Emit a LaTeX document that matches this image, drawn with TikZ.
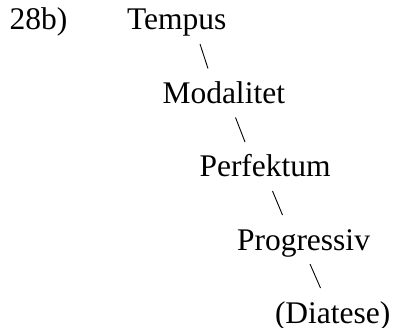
\documentclass[tikz,border=0pt]{standalone}
\usepackage{fontspec}
\setmainfont{Liberation Serif}
\begin{document}
\begin{tikzpicture}[x=1pt,y=1pt,
  lbl/.style={inner sep=0pt,outer sep=0pt,anchor=base west,font=\fontsize{31.5}{36}\selectfont},
  conn/.style={line width=0.9pt}]
\useasboundingbox (0,0) rectangle (395,-328);
\node[lbl] (ex) at (9.5,-30) {28b)};
\node[lbl] (t) at (127,-30) {Tempus};
\node[lbl] (m) at (162.5,-103.5) {Modalitet};
\node[lbl] (p) at (199.5,-177) {Perfektum};
\node[lbl] (g) at (237,-250) {Progressiv};
\node[lbl] (d) at (275,-323) {(Diatese)};
\foreach \a/\b in {t/m,m/p,p/g,g/d}{
  \draw[conn] ([shift={(73,-14)}]\a.base west) -- ([shift={(45.5,35)}]\b.base west);
}
\end{tikzpicture}
\end{document}
